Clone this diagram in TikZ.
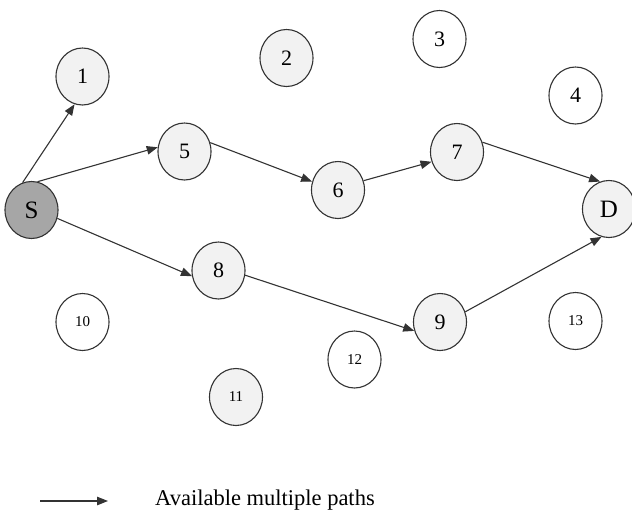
\documentclass[tikz,border=0pt]{standalone}
\usepackage{fontspec}
\setmainfont{Liberation Serif}
\usetikzlibrary{shapes.geometric,arrows.meta}
\definecolor{edgegray}{HTML}{333333}
\definecolor{nodefill}{HTML}{F2F2F2}
\definecolor{srcfill}{HTML}{A6A6A6}
\tikzset{
  hop/.style={ellipse, draw=edgegray, line width=1.1pt, fill=nodefill,
    minimum width=53pt, minimum height=57pt, inner sep=0pt,
    font=\fontsize{22}{22}\selectfont},
  idle/.style={hop, fill=white},
  smallnum/.style={font=\fontsize{15}{15}\selectfont},
  endpt/.style={hop, font=\fontsize{25}{25}\selectfont},
  route/.style={draw=edgegray, line width=1.1pt, -{Triangle[length=11pt,width=8.5pt]}},
}
\begin{document}
\begin{tikzpicture}[x=1pt,y=-1pt]
  \useasboundingbox (0,0) rectangle (632,509);
  % nodes
  \node[endpt, fill=srcfill] (S) at (31.5,210) {S};
  \node[hop] (n1) at (82.5,76.5) {1};
  \node[hop] (n2) at (286.5,58) {2};
  \node[idle] (n3) at (439.5,39) {3};
  \node[idle] (n4) at (575.5,95.5) {4};
  \node[hop] (n5) at (184.5,151.5) {5};
  \node[hop] (n6) at (338,190) {6};
  \node[hop] (n7) at (457,152) {7};
  \node[endpt] (D) at (609,209) {D};
  \node[hop] (n8) at (218.5,270.5) {8};
  \node[hop] (n9) at (440,322) {9};
  \node[idle, smallnum] (n10) at (82.5,322) {10};
  \node[hop, smallnum] (n11) at (236,397) {11};
  \node[idle, smallnum] (n12) at (354.5,359.5) {12};
  \node[idle, smallnum] (n13) at (575.5,321) {13};
  % routes (border points chosen per edge)
  \draw[route] (S.108) -- (n1.254);
  \draw[route] (S.78) -- (n5.171);
  \draw[route] (n5.19) -- (n6.162);
  \draw[route] (n6.20) -- (n7.201);
  \draw[route] (n7.21) -- (D.108);
  \draw[route] (S.342) -- (n8.192);
  \draw[route] (n8.350) -- (n9.199);
  \draw[route] (n9.22) -- (D.255);
  % legend
  \coordinate (la) at (40,501);
  \coordinate (lb) at (108,501);
  \draw[route] (la) -- (lb);
  \node[anchor=base west, inner sep=0pt, font=\fontsize{22.5}{22.5}\selectfont] (legend) at (155,505) {Available multiple paths};
\end{tikzpicture}
\end{document}
